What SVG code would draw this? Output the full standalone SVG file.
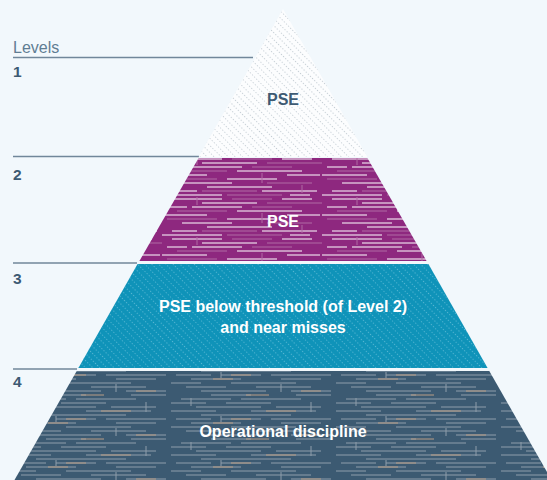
<svg xmlns="http://www.w3.org/2000/svg" width="547" height="480" viewBox="0 0 547 480">
<style>
.lbl{font-family:"Liberation Sans",Arial,Helvetica,sans-serif;font-weight:bold;font-size:16px}
.num{font-family:"Liberation Sans",Arial,Helvetica,sans-serif;font-weight:bold;font-size:15.5px;fill:#3d5a73}
.rule{stroke:#71879a;stroke-width:1.3;fill:none}
.w{stroke:#ffffff;stroke-width:1}
.p{stroke:#b06aa4;stroke-width:1}
.g{stroke:#8e9dab;stroke-width:1}
.b{stroke:#b99d86;stroke-width:1}
</style>
<defs>
<pattern id="hatchWhite" width="5" height="3" patternUnits="userSpaceOnUse" patternTransform="rotate(-45)">
<rect x="0" y="0" width="1" height="1.1" fill="#c3ccd3"/>
</pattern>
<pattern id="hatchTeal" width="5" height="3" patternUnits="userSpaceOnUse" patternTransform="rotate(-45)">
<rect x="0" y="0" width="1" height="1.1" fill="#58b7d3"/>
</pattern>
<pattern id="circuitPurple" width="160" height="40" patternUnits="userSpaceOnUse" x="2" y="157">
<rect width="160" height="40" fill="#8e287f"/>
<g fill="none">
<path class="w" d="M10 2H60M120 2H150M40 6H95M5 10H25M30 10H80M75 14H140M0 18H45M125 18H158M65 22H115M20 26H70M45 30H110M10 34H35M100 34H155M0 38H60M128 38H148"/>
<path class="p" d="M70 2H110M105 6H160M90 10H130M15 14H65M5 22H55M105 26H150M40 34H95M65 38H120M35 0V8M100 16V26M140 28V36"/>
</g>
</pattern>
<pattern id="circuitDark" width="165" height="44" patternUnits="userSpaceOnUse" x="6" y="372">
<rect width="165" height="44" fill="#3c5a72"/>
<g fill="none">
<path class="g" d="M5 3H40M50 3H90M100 3H160M20 7H70M110 7H150M0 11H30M60 11H125M15 15H55M85 15H140M30 19H95M120 19H160M40 23H80M125 23H160M10 27H60M70 27H130M0 31H35M55 31H100M25 35H90M105 35H150M0 39H45M80 39H145M30 43H120M50 0V6M110 12V20M20 26V34M140 30V40"/>
<path class="b" d="M42 7H62M130 19H150M75 23H98M95 39H125M60 3H80"/>
</g>
</pattern>
</defs>
<rect width="547" height="480" fill="#f2f8fc"/>
<g id="level-rules">
<line class="rule" x1="13" y1="57.5" x2="253" y2="57.5"/>
<line class="rule" x1="13" y1="156.5" x2="199" y2="156.5"/>
<line class="rule" x1="13" y1="263" x2="137" y2="263"/>
<line class="rule" x1="13" y1="369" x2="77" y2="369"/>
</g>
<g id="level-1">
<polygon points="283,9 367.4,157 198.6,157" fill="#fcfdfe"/>
<polygon points="283,9 367.4,157 198.6,157" fill="url(#hatchWhite)"/>
<text class="lbl" x="283" y="105" text-anchor="middle" fill="#3d5a73">PSE</text>
</g>
<g id="level-2">
<polygon points="198.6,158 367.4,158 426.6,261 139.4,261" fill="url(#circuitPurple)"/>
<text class="lbl" x="283" y="227" text-anchor="middle" fill="#ffffff">PSE</text>
</g>
<g id="level-3">
<polygon points="137.6,264 428.4,264 487.6,368 78.4,368" fill="#0f93b9"/>
<polygon points="137.6,264 428.4,264 487.6,368 78.4,368" fill="url(#hatchTeal)"/>
<text class="lbl" x="283" y="311.5" text-anchor="middle" fill="#ffffff">PSE below threshold (of Level 2)</text>
<text class="lbl" x="283" y="333" text-anchor="middle" fill="#ffffff">and near misses</text>
</g>
<g id="level-4">
<polygon points="76.7,371 489.3,371 551.5,480 14.5,480" fill="url(#circuitDark)"/>
<text class="lbl" x="283" y="437" text-anchor="middle" fill="#ffffff">Operational discipline</text>
</g>
<g id="level-labels">
<text x="13" y="53" font-family="Liberation Sans, Arial, sans-serif" font-size="16" fill="#5f7d93">Levels</text>
<text class="num" x="13" y="77">1</text>
<text class="num" x="13" y="180">2</text>
<text class="num" x="13" y="284">3</text>
<text class="num" x="13" y="387">4</text>
</g>
</svg>
